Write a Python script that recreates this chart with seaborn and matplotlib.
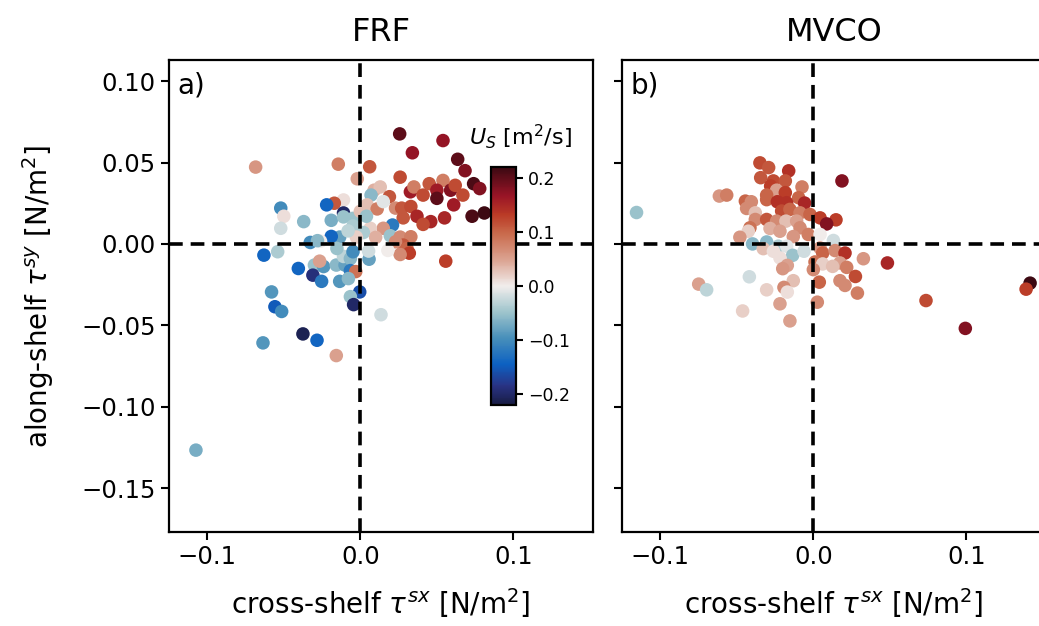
import numpy as np
import pandas as pd
import matplotlib
matplotlib.use("Agg")
import matplotlib.pyplot as plt
import seaborn as sns
from matplotlib.colors import LinearSegmentedColormap, Normalize
from matplotlib.cm import ScalarMappable

# ---------------- data ----------------
frf_x = [0.0257, 0.054, 0.034, 0.0636, 0.0684, -0.0684, -0.0144, 0.0061, 0.026, -0.002,
         0.074, 0.078, 0.054, 0.045, 0.0327, 0.035, 0.009, 0.013, 0.050, 0.059,
         0.062, 0.067, 0.061, 0.073, 0.081, 0.050, 0.041, 0.019, 0.007, -0.011,
         -0.017, -0.022, -0.052, -0.050, -0.052, -0.037, -0.019, -0.011, -0.011, -0.0048,
         -0.0048, 0.0044, 0.011, 0.015, 0.023, 0.027, 0.033, 0.037, 0.028, 0.046,
         0.041, 0.055, 0.021, 0.015, 0.0065, 0.002, 0.0196, 0.026, 0.033, 0.028,
         0.023, 0.0305, 0.032, 0.026, 0.018, 0.0558, 0.0057, 0.0054, -0.0026, -0.0135,
         -0.019, -0.026, -0.0327, -0.028, -0.063, -0.054, -0.0405, -0.030, -0.024, -0.0157,
         -0.010, -0.011, -0.0153, -0.0065, -0.0048, -0.0065, -0.003, -0.031, -0.0253, -0.0135,
         -0.0078, -0.0266, -0.058, -0.0004, -0.0065, -0.0044, 0.0135, -0.0558, -0.0514, -0.0375,
         -0.0283, -0.0636, -0.0157, -0.1074, 0.000, 0.004, -0.008, 0.010]
frf_y = [0.0676, 0.0635, 0.056, 0.052, 0.045, 0.0472, 0.049, 0.0474, 0.041, 0.040,
         0.037, 0.034, 0.039, 0.037, 0.032, 0.035, 0.033, 0.035, 0.033, 0.033,
         0.036, 0.030, 0.024, 0.017, 0.019, 0.028, 0.030, 0.029, 0.030, 0.027,
         0.025, 0.024, 0.022, 0.017, 0.0096, 0.0137, 0.0145, 0.019, 0.0166, 0.0157,
         0.011, 0.024, 0.0215, 0.026, 0.022, 0.022, 0.023, 0.017, 0.016, 0.0137,
         0.012, 0.016, 0.0116, 0.0096, 0.0096, 0.007, 0.005, 0.0042, 0.0044, -0.0007,
         0.0013, -0.0028, -0.0057, -0.0065, -0.004, -0.0106, -0.0094, -0.0044, 0.0042, 0.0042,
         0.0046, 0.0017, 0.0009, 0.002, -0.0069, -0.0048, -0.0151, -0.013, -0.0139, -0.013,
         -0.013, -0.0077, -0.0028, -0.009, -0.0048, -0.0164, -0.017, -0.0192, -0.023, -0.023,
         -0.0213, -0.0106, -0.0295, -0.0295, -0.0324, -0.0373, -0.0435, -0.0386, -0.0415, -0.0553,
         -0.0592, -0.0608, -0.0686, -0.1267, 0.020, 0.017, 0.008, 0.004]
frf_us = [0.20, 0.17, 0.17, 0.20, 0.18, 0.06, 0.08, 0.11, 0.12, 0.05,
          0.21, 0.18, 0.08, 0.11, 0.16, 0.08, 0.04, 0.03, 0.16, 0.18,
          0.12, 0.12, 0.16, 0.21, 0.22, 0.20, 0.12, 0.11, -0.06, 0.01,
          0.11, -0.14, -0.10, 0.01, -0.02, -0.06, -0.07, -0.20, -0.05, -0.05,
          -0.04, 0.03, 0.08, -0.01, 0.07, 0.11, 0.12, 0.15, 0.11, 0.15,
          0.12, 0.15, -0.12, 0.06, 0.02, -0.04, -0.05, 0.07, 0.08, 0.11,
          0.07, 0.10, 0.13, 0.07, 0.00, 0.13, -0.08, -0.02, 0.02, -0.08,
          -0.14, 0.00, -0.10, -0.06, -0.14, -0.04, -0.14, -0.05, -0.09, -0.06,
          -0.08, -0.03, -0.05, -0.06, -0.10, -0.12, 0.09, -0.19, -0.12, -0.09,
          -0.06, 0.05, -0.09, -0.16, -0.05, -0.20, -0.02, -0.15, -0.10, -0.21,
          -0.14, -0.09, 0.05, -0.07, 0.03, -0.05, -0.03, 0.04]

mvco_x = [-0.1155, -0.0349, -0.0292, -0.0161, 0.0187, -0.0344, -0.0261, -0.0183, -0.0279, -0.0074,
          -0.024, -0.0614, -0.0566, -0.0305, -0.0183, -0.0096, -0.0444, -0.0405, -0.0305, -0.0235,
          -0.0174, -0.0057, -0.0436, -0.0379, -0.0207, -0.0153, -0.0087, -0.0022, 0.0044, 0.0148,
          0.0087, -0.0379, -0.0305, -0.024, -0.0179, -0.0109, -0.0414, -0.0425, -0.048, -0.0283,
          -0.0218, -0.0087, -0.0033, -0.0131, 0.0044, 0.0131, -0.0397, -0.0305, -0.0229, -0.0327,
          -0.0261, -0.0174, -0.0135, -0.0061, 0.0044, 0.0061, 0.0142, 0.0207, -0.0218, -0.017,
          -0.020, 0.0011, 0.0061, 0.000, 0.0174, 0.0126, 0.0218, 0.0327, 0.0484, 0.0275,
          0.0039, 0.0174, 0.0207, 0.0288, -0.0418, -0.0749, -0.0697, -0.0131, -0.0192, -0.0305,
          -0.017, 0.0026, -0.0218, -0.0462, -0.0153, 0.0736, 0.0993, 0.1416, 0.139]
mvco_y = [0.0193, 0.0498, 0.0469, 0.0449, 0.0387, 0.0407, 0.0387, 0.0387, 0.0356, 0.035,
          0.033, 0.0294, 0.030, 0.030, 0.0315, 0.0284, 0.0263, 0.0259, 0.0272, 0.0259,
          0.0253, 0.0251, 0.0218, 0.0191, 0.0202, 0.0212, 0.0191, 0.0181, 0.016, 0.0148,
          0.0123, 0.015, 0.015, 0.014, 0.014, 0.014, 0.0099, 0.0078, 0.0041, 0.0095,
          0.0078, 0.0099, 0.0058, 0.0045, 0.0058, 0.0021, 0.000, 0.0012, -0.0014, -0.0029,
          -0.0045, -0.0014, -0.007, -0.0045, -0.0025, -0.0056, -0.0041, -0.0056, -0.0086, -0.0132,
          -0.0152, -0.0111, -0.0123, -0.0158, -0.0117, -0.0138, -0.0144, -0.0091, -0.0117, -0.020,
          -0.0235, -0.0226, -0.0255, -0.0302, -0.0202, -0.0247, -0.0282, -0.0226, -0.0267, -0.0282,
          -0.0296, -0.0358, -0.0368, -0.0412, -0.0473, -0.0348, -0.0519, -0.0241, -0.0278]
mvco_us = [-0.05, 0.12, 0.11, 0.14, 0.18, 0.11, 0.12, 0.11, 0.13, 0.08,
           0.05, 0.06, 0.08, 0.10, 0.13, 0.10, 0.10, 0.07, 0.10, 0.14,
           0.14, 0.15, 0.07, 0.03, 0.12, 0.10, 0.08, 0.10, 0.13, 0.13,
           0.18, 0.07, 0.11, 0.07, 0.03, 0.05, 0.09, 0.02, 0.06, 0.04,
           0.05, 0.07, 0.08, 0.06, 0.00, -0.02, -0.06, -0.06, -0.04, 0.03,
           0.01, -0.01, -0.05, -0.02, 0.06, 0.10, 0.07, 0.14, 0.01, 0.05,
           0.06, 0.09, 0.02, 0.07, 0.05, 0.03, 0.08, 0.06, 0.15, 0.12,
           0.10, 0.07, 0.07, 0.08, -0.02, 0.05, -0.03, 0.03, 0.07, 0.02,
           0.01, 0.07, 0.05, 0.02, 0.05, 0.12, 0.18, 0.22, 0.13]

titles = ["FRF", "MVCO"]
panel_tags = ["a)", "b)"]
xticks = [-0.1, 0.0, 0.1]
yticks = [-0.15, -0.10, -0.05, 0.00, 0.05, 0.10]
cbar_ticks = [-0.2, -0.1, 0.0, 0.1, 0.2]
us_lim = (-0.22, 0.22)

# ---------------- colormap (cmocean "balance"-like) ----------------
bal_nodes = [
    (0.00, (0.094, 0.110, 0.263)),
    (0.08, (0.16, 0.20, 0.52)),
    (0.17, (0.05, 0.38, 0.76)),
    (0.28, (0.28, 0.56, 0.73)),
    (0.39, (0.62, 0.77, 0.80)),
    (0.50, (0.945, 0.929, 0.925)),
    (0.61, (0.86, 0.64, 0.57)),
    (0.72, (0.79, 0.42, 0.30)),
    (0.80, (0.73, 0.23, 0.15)),
    (0.88, (0.60, 0.08, 0.15)),
    (1.00, (0.235, 0.035, 0.071)),
]
cmap = LinearSegmentedColormap.from_list("balance_like", bal_nodes)
norm = Normalize(*us_lim)

# ---------------- figure ----------------
sns.set_style("ticks")
plt.rcParams["font.family"] = ["DejaVu Sans"]
plt.rcParams["mathtext.fontset"] = "dejavusans"
for key in ["text.color", "axes.labelcolor", "xtick.color", "ytick.color", "axes.edgecolor"]:
    plt.rcParams[key] = "black"

TICK = 17.5
LABEL = 20
fig = plt.figure(figsize=(10.39, 6.26), dpi=100)
W, H = 1039, 626
ax_w = 424 / W
ax_b = 1 - 532 / H
ax_h = (532 - 60) / H
axes = [fig.add_axes([169 / W, ax_b, ax_w, ax_h]),
        fig.add_axes([622 / W, ax_b, ax_w, ax_h])]

datasets = [
    pd.DataFrame({"x": frf_x, "y": frf_y, "us": frf_us}),
    pd.DataFrame({"x": mvco_x, "y": mvco_y, "us": mvco_us}),
]

for i, (ax, df) in enumerate(zip(axes, datasets)):
    sns.scatterplot(data=df, x="x", y="y", hue="us", palette=cmap, hue_norm=norm,
                    s=95, linewidth=0, legend=False, ax=ax, zorder=3)
    ax.axhline(0, color="black", lw=2.6, ls=(0, (3.8, 2.2)), zorder=4)
    ax.axvline(0, color="black", lw=2.6, ls=(0, (3.8, 2.2)), zorder=4)
    ax.set_xlim(-0.125, 0.152)
    ax.set_ylim(-0.177, 0.113)
    ax.set_xticks(xticks)
    ax.set_yticks(yticks)
    ax.set_xticklabels([f"{t:.1f}".replace("-", "\u2212") for t in xticks])
    ax.set_title(titles[i], fontsize=23, pad=14)
    ax.set_xlabel(r"cross-shelf $\tau^{sx}$ [N/m$^2$]", fontsize=LABEL, labelpad=12)
    ax.tick_params(labelsize=TICK, width=1.5, length=6, color="black")
    for sp in ax.spines.values():
        sp.set_linewidth(1.6)
        sp.set_color("black")
    ax.text(0.02, 0.975, panel_tags[i], transform=ax.transAxes, fontsize=20,
            ha="left", va="top", zorder=5)

axes[0].set_yticklabels([f"{t:.2f}".replace("-", "\u2212") for t in yticks])
axes[0].set_ylabel(r"along-shelf $\tau^{sy}$ [N/m$^2$]", fontsize=LABEL, labelpad=18)
axes[1].set_ylabel("")
axes[1].set_yticklabels([])

# colorbar inset
cax = fig.add_axes([491 / W, 1 - 405 / H, 25 / W, 238 / H])
sm = ScalarMappable(norm=norm, cmap=cmap)
cb = fig.colorbar(sm, cax=cax, ticks=cbar_ticks)
cb.ax.set_yticklabels([f"{t:.1f}".replace("-", "\u2212") for t in cbar_ticks])
cb.ax.tick_params(labelsize=12.5, width=1.5, length=5, color="black")
cb.outline.set_linewidth(1.6)
fig.text(520 / W, 1 - 137 / H, r"$U_S$ [m$^2$/s]", fontsize=16, ha="center", va="center")

fig.savefig("out.png", dpi=100)
